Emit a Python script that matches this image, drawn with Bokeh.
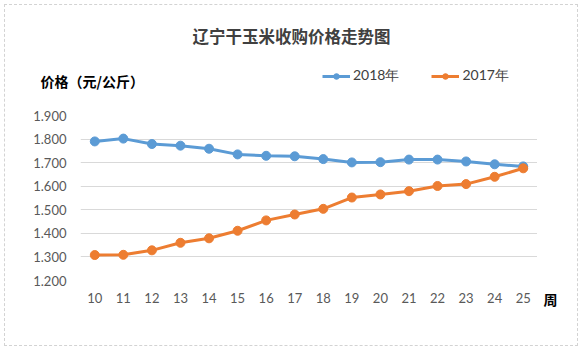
from bokeh.plotting import figure
from bokeh.models import (Legend, LegendItem, NumeralTickFormatter, FixedTicker, Range1d,
                          FactorRange, Label, Title)
from bokeh.layouts import column, row
from bokeh.embed import file_html
from bokeh.resources import INLINE

weeks = [str(w) for w in range(10, 26)]
price_2018 = [1.790, 1.802, 1.779, 1.772, 1.759, 1.735, 1.729, 1.727, 1.715, 1.701,
              1.702, 1.713, 1.713, 1.705, 1.693, 1.684]
price_2017 = [1.308, 1.309, 1.328, 1.360, 1.379, 1.411, 1.455, 1.480, 1.504, 1.552,
              1.565, 1.579, 1.601, 1.609, 1.640, 1.676]
y_ticks = [1.2, 1.3, 1.4, 1.5, 1.6, 1.7, 1.8, 1.9]

title_text = "辽宁干玉米收购价格走势图"
y_title = "价格（元/公斤）"
x_title = "周"
series_names = ["2018年", "2017年"]

CJK = "Noto Sans CJK SC"
BLUE = "#5B9BD5"
ORANGE = "#ED7D31"


def blank_fig(w, h):
    f = figure(width=w, height=h, x_range=Range1d(0, w), y_range=Range1d(0, h),
               x_axis_type=None, y_axis_type=None, output_backend="svg", toolbar_location=None,
               min_border=0, min_border_left=0, min_border_right=0, min_border_top=0,
               min_border_bottom=0)
    f.outline_line_color = None
    f.background_fill_color = "white"
    f.border_fill_color = "white"
    return f


# ---- header: title, y-axis title, legend
H_HEAD = 100
head = blank_fig(572, H_HEAD)
head.add_layout(Label(x=286, y=H_HEAD - 30, text=title_text, text_align="center",
                      text_baseline="middle", text_font=CJK, text_font_size="16.5px",
                      text_font_style="bold", text_color="#404040"))
head.add_layout(Label(x=35, y=H_HEAD - 75, text=y_title, text_align="left",
                      text_baseline="middle", text_font=CJK, text_font_size="14px",
                      text_font_style="bold", text_color="black"))
# legend samples only (kept outside the visible header area)
l18 = head.line(x=[-60, -50], y=[-60, -60], line_color=BLUE, line_width=3)
s18 = head.scatter(x=[-55], y=[-60], size=9, fill_color=BLUE, line_color=BLUE)
l17 = head.line(x=[-60, -50], y=[-60, -60], line_color=ORANGE, line_width=3)
s17 = head.scatter(x=[-55], y=[-60], size=9, fill_color=ORANGE, line_color=ORANGE)
legend = Legend(items=[LegendItem(label=series_names[0], renderers=[l18, s18]),
                       LegendItem(label=series_names[1], renderers=[l17, s17])],
                orientation="horizontal", location=(317, 20),
                label_text_font="Lato", label_text_font_size="14px", label_text_color="#404040",
                glyph_width=28, glyph_height=14, spacing=32, padding=0, margin=0,
                label_standoff=3, border_line_color=None, background_fill_alpha=0)
head.add_layout(legend, "center")

# ---- main chart
H_MAIN = 240
p = figure(width=532, height=H_MAIN, x_range=FactorRange(*weeks), y_range=Range1d(1.2, 1.9),
           output_backend="svg", toolbar_location=None,
           min_border_left=75, min_border_right=0, min_border_top=10, min_border_bottom=65)
p.outline_line_color = None
p.background_fill_color = "white"
p.border_fill_color = "white"
p.xgrid.grid_line_color = None
p.ygrid.grid_line_color = "#D9D9D9"
p.ygrid.grid_line_width = 1
p.yaxis.ticker = FixedTicker(ticks=y_ticks)
p.yaxis.formatter = NumeralTickFormatter(format="0.000")
for ax in (p.xaxis[0], p.yaxis[0]):
    ax.axis_line_color = None
    ax.major_tick_line_color = None
    ax.minor_tick_line_color = None
    ax.major_label_text_color = "#595959"
    ax.major_label_text_font = "Lato"
    ax.major_label_text_font_size = "13px"
p.yaxis.major_label_standoff = 8
p.xaxis.major_label_standoff = 6

p.line(weeks, price_2018, line_color=BLUE, line_width=3)
p.scatter(weeks, price_2018, size=9, fill_color=BLUE, line_color=BLUE)
p.line(weeks, price_2017, line_color=ORANGE, line_width=3)
p.scatter(weeks, price_2017, size=9, fill_color=ORANGE, line_color=ORANGE)

# ---- x-axis unit to the right of the tick labels (below panel of a narrow figure)
side = blank_fig(40, H_MAIN)
side.add_layout(Title(text=x_title, align="left", offset=6, standoff=12,
                      text_font=CJK, text_font_size="14px", text_font_style="bold",
                      text_color="black"), "below")

layout = column(head, row(p, side, spacing=0), spacing=0)
layout.styles = {"border": "1px dashed #D3D3D3", "margin": "4px"}

open("out.html", "w").write(file_html(layout, INLINE))
